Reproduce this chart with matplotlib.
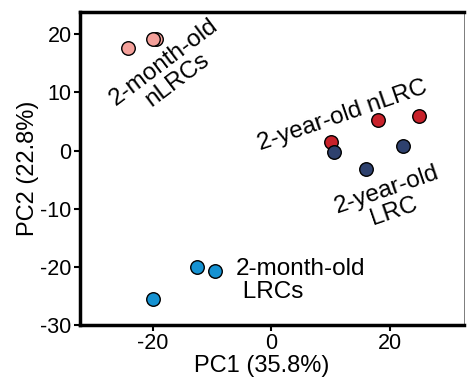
import matplotlib.pyplot as plt

plt.rcParams['font.family'] = ['Liberation Sans', 'DejaVu Sans']
plt.rcParams['axes.unicode_minus'] = False

# PCA scores per group
month_nlrc_x = [-24.2, -19.5, -20.0]
month_nlrc_y = [17.6, 19.1, 19.2]
year_nlrc_x = [10.0, 17.9, 24.8]
year_nlrc_y = [1.5, 5.3, 6.0]
year_lrc_x = [10.5, 15.9, 22.1]
year_lrc_y = [-0.3, -3.2, 0.7]
month_lrc_x = [-12.6, -9.5, -20.0]
month_lrc_y = [-20.0, -20.7, -25.5]

xticks = [-20, 0, 20]
yticks = [-30, -20, -10, 0, 10, 20]

fig = plt.figure(figsize=(4.67, 3.78), dpi=100)
ax = fig.add_axes([0.171, 0.140, 0.823, 0.828])

kw = dict(s=95, edgecolors='black', linewidths=1.0, zorder=3)
ax.scatter(month_nlrc_x, month_nlrc_y, color='#F4A09A', **kw)
ax.scatter(year_nlrc_x, year_nlrc_y, color='#C8222B', **kw)
ax.scatter(year_lrc_x, year_lrc_y, color='#2E416E', **kw)
ax.scatter(month_lrc_x, month_lrc_y, color='#1592D2', **kw)

fs = 17.5
ax.text(-17.0, 13.6, '2-month-old\nnLRCs', rotation=37, ha='center', va='center',
        fontsize=fs, linespacing=1.0, rotation_mode='anchor')
ax.text(12.0, 6.0, '2-year-old nLRC', rotation=19, ha='center', va='center',
        fontsize=fs, rotation_mode='anchor')
ax.text(20.0, -8.6, '2-year-old\nLRC', rotation=19, ha='center', va='center',
        fontsize=fs, linespacing=1.0, rotation_mode='anchor')
ax.text(-6.0, -22.4, '2-month-old\n LRCs', ha='left', va='center',
        fontsize=fs, linespacing=1.05)

ax.set_xlim(-32.3, 32.5)
ax.set_ylim(-30, 23.8)
ax.set_xticks(xticks)
ax.set_yticks(yticks)
ax.tick_params(labelsize=15.5, length=4, width=1.5, pad=2)
ax.set_xlabel('PC1 (35.8%)', fontsize=17, labelpad=0)
ax.set_ylabel('PC2 (22.8%)', fontsize=17, labelpad=1)
ax.xaxis.set_label_coords(0.473, -0.097)

for side in ['left', 'bottom', 'top']:
    ax.spines[side].set_linewidth(2.5)
ax.spines['right'].set_linewidth(0.6)
ax.spines['right'].set_color('#666666')

fig.savefig('out.png', dpi=100)
